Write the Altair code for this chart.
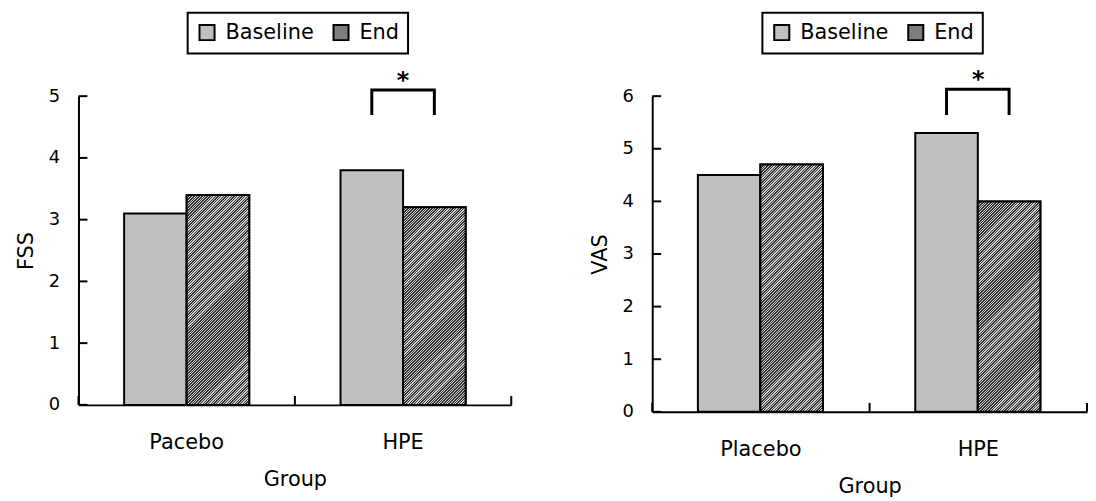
import math
import altair as alt
import pandas as pd

# ---------------- data ----------------
series = ["Baseline", "End"]

fss_groups = ["Pacebo", "HPE"]
fss_baseline = [3.1, 3.8]
fss_end = [3.4, 3.2]
fss_ticks = [0, 1, 2, 3, 4, 5]
fss_bracket = [4.72, 5.1]   # bracket foot, bracket top (FSS units)

vas_groups = ["Placebo", "HPE"]
vas_baseline = [4.5, 5.3]
vas_end = [4.7, 4.0]
vas_ticks = [0, 1, 2, 3, 4, 5, 6]
vas_bracket = [5.67, 6.13]  # bracket foot, bracket top (VAS units)

sig_group = "HPE"
sig_mark = "*"

FONT = "DejaVu Sans"


def hatch(w, h, pitch=1.9, dark_frac=0.55, dark="#333333", light="#d0d0d0"):
    """Diagonal '/' hatch as a linear gradient in bounding-box units."""
    s = (w + h) / (w * w + h * h)
    n = max(4, int(round((w + h) / (pitch * math.sqrt(2)))))
    stops = []
    for i in range(n):
        a, m, b = i / n, (i + dark_frac) / n, (i + 1) / n
        stops += [
            alt.GradientStop(offset=a, color=dark),
            alt.GradientStop(offset=m, color=dark),
            alt.GradientStop(offset=m, color=light),
            alt.GradientStop(offset=b, color=light),
        ]
    return alt.LinearGradient(gradient="linear", x1=0, y1=0, x2=w * s, y2=h * s, stops=stops)


def panel(groups, base, end, ticks, bracket, ytitle, W, H, pad_outer, legend_x):
    ymax = ticks[-1]
    df = pd.DataFrame({
        "g": groups * 2,
        "s": [series[0]] * len(groups) + [series[1]] * len(groups),
        "v": list(base) + list(end),
    })
    xs = alt.Scale(domain=groups, paddingInner=0, paddingOuter=0)
    xo = alt.Scale(domain=series, paddingInner=0, paddingOuter=pad_outer)
    ys = alt.Scale(domain=[0, ymax], nice=False, zero=True)

    X = alt.X("g:N", scale=xs, sort=groups, title="Group",
              axis=alt.Axis(labelAngle=0, ticks=False, domain=True, labelPadding=27,
                            titlePadding=16, labelFontSize=21, titleFontSize=21))
    Y = alt.Y("v:Q", scale=ys, title=ytitle,
              axis=alt.Axis(values=ticks, ticks=False, grid=False, domain=True,
                            labelPadding=19, titlePadding=12, labelFontSize=18,
                            titleFontSize=21, format="d"))
    XO = alt.XOffset("s:N", scale=xo)

    bars = alt.Chart(df).mark_bar(stroke="black", strokeWidth=2).encode(
        x=X, xOffset=XO, y=Y,
        color=alt.Color("s:N", scale=alt.Scale(domain=series, range=["#c0c0c0", "#7c7c7c"]),
                        legend=alt.Legend(orient="none", legendX=legend_x, legendY=-84,
                                          direction="horizontal", title=None,
                                          symbolType="square", symbolSize=230,
                                          symbolStrokeColor="black", symbolStrokeWidth=2,
                                          labelFontSize=21, labelFont=FONT, labelColor="black",
                                          padding=9, columnPadding=14, labelOffset=8,
                                          strokeColor="black", fillColor="white")),
    )

    layers = [bars]
    bar_w = W / len(groups) / (2 + 2 * pad_outer)
    for g, v in zip(groups, end):
        h = v * H / ymax
        layers.append(
            alt.Chart(df).transform_filter((alt.datum.s == series[1]) & (alt.datum.g == g))
            .mark_bar(fill=hatch(bar_w, h), stroke="black", strokeWidth=2)
            .encode(x=X, xOffset=XO, y=Y)
        )

    br = pd.DataFrame({
        "g": [sig_group] * 4,
        "s": [series[0], series[0], series[1], series[1]],
        "v": [bracket[0], bracket[1], bracket[1], bracket[0]],
        "o": [0, 1, 2, 3],
    })
    layers.append(
        alt.Chart(br).mark_line(color="black", strokeWidth=3, strokeCap="square")
        .encode(x=X, xOffset=XO, y=Y, order="o:Q")
    )
    star = pd.DataFrame({"g": [sig_group], "v": [bracket[1]], "t": [sig_mark]})
    layers.append(
        alt.Chart(star).mark_text(font=FONT, fontSize=24, fontWeight="bold",
                                  baseline="alphabetic", dy=-2, color="black")
        .encode(x=X, y=Y, text="t:N")
    )
    tk = pd.DataFrame({"v": ticks})
    layers.append(
        alt.Chart(tk).mark_rule(color="black", strokeWidth=2)
        .encode(y=Y, x=alt.value(0), x2=alt.value(9))
    )
    main = alt.layer(*layers)

    edges = pd.DataFrame({"e": list(range(len(groups) + 1))})
    xticks = (
        alt.Chart(edges).mark_rule(color="black", strokeWidth=2)
        .encode(x=alt.X("e:Q", scale=alt.Scale(domain=[0, len(groups)], nice=False), axis=None),
                y=alt.value(H), y2=alt.value(H - 9))
    )
    return alt.layer(main, xticks).resolve_scale(x="independent").properties(width=W, height=H)


left = panel(fss_groups, fss_baseline, fss_end, fss_ticks, fss_bracket, "FSS", 436, 311, 0.73, 110)
right = panel(vas_groups, vas_baseline, vas_end, vas_ticks, vas_bracket, "VAS", 438, 318, 0.738, 111)

chart = (
    alt.hconcat(left, right, spacing=77)
    .resolve_scale(color="independent")
    .properties(padding={"left": 7, "top": 2, "right": 0, "bottom": 0}, background="white")
    .configure_view(stroke=None)
    .configure_axis(domainColor="black", domainWidth=2, labelColor="black", titleColor="black",
                    labelFont=FONT, titleFont=FONT, titleFontWeight="normal")
    .configure_legend(strokeWidth=2)
)

chart.save("out.html", embed_options={"renderer": "svg", "actions": False})
